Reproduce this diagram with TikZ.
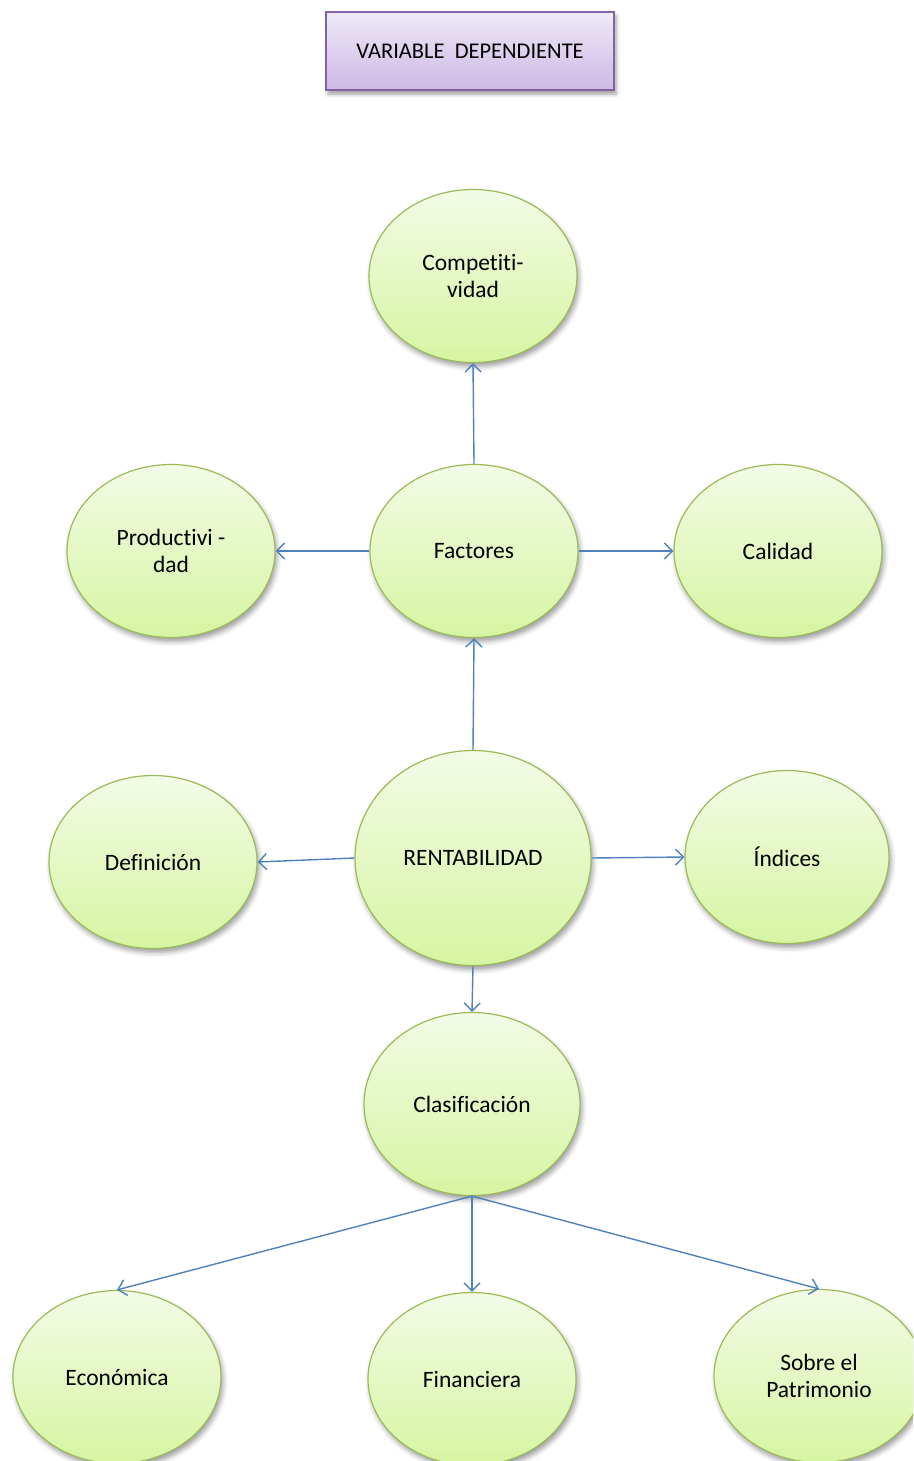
\documentclass[tikz,border=0pt]{standalone}
\usepackage{fontspec}
\setmainfont{Carlito}[Ligatures=NoCommon]
\usetikzlibrary{shapes.geometric,shadows.blur,arrows.meta}
\definecolor{ovalline}{HTML}{9BBB59}
\definecolor{ovaltop}{HTML}{F3FBE6}
\definecolor{ovalbot}{HTML}{D6F5A2}
\definecolor{boxline}{HTML}{8064A2}
\definecolor{boxtop}{HTML}{EFE9F7}
\definecolor{boxbot}{HTML}{CCB9E5}
\definecolor{linkblue}{HTML}{4F81BD}
\tikzset{
  oval/.style={ellipse, draw=ovalline, line width=1.2pt, top color=ovaltop, bottom color=ovalbot,
    minimum width=208pt, minimum height=173pt, inner sep=0pt, align=center,
    font=\fontsize{23.5}{27.5}\selectfont,
    blur shadow={shadow xshift=2pt, shadow yshift=-4pt, shadow blur radius=5pt, shadow opacity=40}},
  titlebox/.style={rectangle, draw=boxline, line width=1.2pt, top color=boxtop, bottom color=boxbot,
    minimum width=288pt, minimum height=78pt, inner sep=0pt,
    font=\fontsize{22.5}{27}\selectfont,
    blur shadow={shadow xshift=2pt, shadow yshift=-4pt, shadow blur radius=4pt, shadow opacity=40}},
  link/.style={draw=linkblue, line width=1.4pt, -{Straight Barb[length=8pt,width=16pt,line width=1.4pt]}}
}
\begin{document}
\begin{tikzpicture}[x=1pt,y=-1pt]
\useasboundingbox (0,0) rectangle (913,1461);
\clip (0,0) rectangle (913,1461);
\node[titlebox] (title) at (470,51) {VARIABLE\ \ DEPENDIENTE};

\node[oval] (comp) at (473,276) {Competiti-\\vidad};
\node[oval] (prod) at (171,551) {Productivi -\\dad};
\node[oval] (fact) at (474,551) {Factores};
\node[oval] (cal) at (778,551) {Calidad};
\node[oval] (def) at (153,862) {Definición};
\node[oval, minimum width=236pt, minimum height=215pt] (rent) at (473,858) {RENTABILIDAD};
\node[oval, minimum width=204pt, minimum height=173pt] (ind) at (787,857) {Índices};
\node[oval, minimum width=216pt, minimum height=183pt] (clas) at (472,1104) {Clasificación};
\node[oval] (eco) at (117,1377) {Económica};
\node[oval] (fin) at (472,1379) {Financiera};
\node[oval, minimum width=210pt] (sob) at (819,1376) {Sobre el\\Patrimonio};

\draw[link] (fact.north) -- (comp.south);
\draw[link] (fact.west) -- (prod.east);
\draw[link] (fact.east) -- (cal.west);
\draw[link] (rent.north) -- (fact.south);
\draw[link] (rent.west) -- (def.east);
\draw[link] (rent.east) -- (ind.west);
\draw[link] (rent.south) -- (clas.north);
\draw[link] (clas.south) -- (eco.north);
\draw[link] (clas.south) -- (fin.north);
\draw[link] (clas.south) -- (sob.north);
\end{tikzpicture}
\end{document}
